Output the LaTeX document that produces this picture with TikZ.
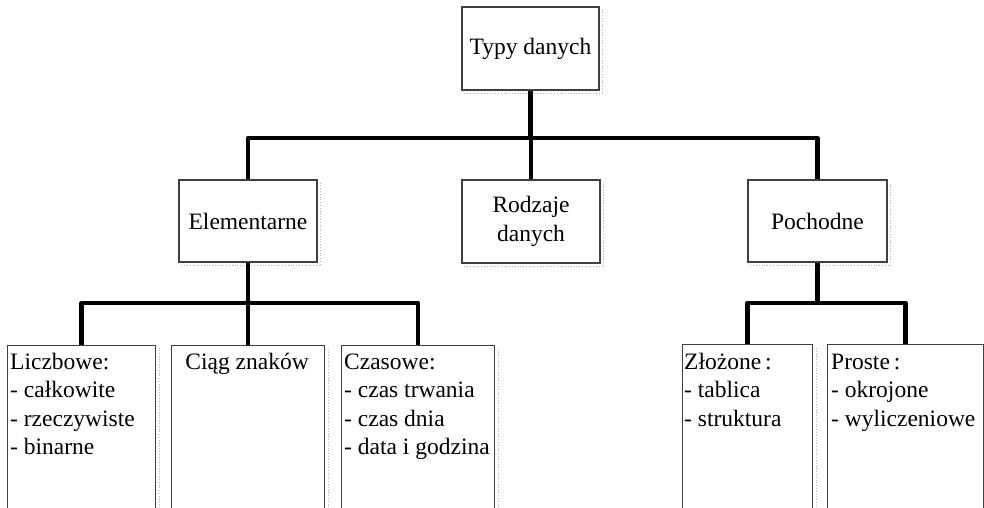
\documentclass[tikz,border=0pt]{standalone}
\usepackage{fontspec}
\setmainfont{Liberation Serif}
\begin{document}
\begin{tikzpicture}[x=1pt,y=-1pt,
  box/.style={draw=black!75, line width=1.1pt, fill=white, inner sep=0pt,
              font=\fontsize{23.5}{28.5}\selectfont},
  col/.style={box, anchor=north west, minimum height=200pt},
  lbl/.style={font=\fontsize{23.5}{28.5}\selectfont, inner sep=0pt, align=left},
  conn/.style={line width=4.2pt, line join=round, line cap=butt},
  shade/.style={draw=black!30, dotted, line width=0.8pt}]
\useasboundingbox (0,0) rectangle (984,508);
\clip (0,0) rectangle (984,508);

% upper levels
\node[box, minimum width=137pt, minimum height=83pt] (typy) at (530.5,48.5) {Typy danych};
\node[box, minimum width=138pt, minimum height=82pt] (elem) at (248,221) {Elementarne};
\node[box, minimum width=138pt, minimum height=83pt, align=center] (rodz) at (531,221.5) {Rodzaje\\danych};
\node[box, minimum width=139pt, minimum height=82pt] (poch) at (817.5,221) {Pochodne};

% lowest level: tall columns running off the bottom edge
\node[col, minimum width=148pt] (licz)  at (7,345)   {};
\node[col, minimum width=153pt] (ciag)  at (171,345) {};
\node[col, minimum width=153pt] (czas)  at (341,345) {};
\node[col, minimum width=130pt] (zloz)  at (682,344) {};
\node[col, minimum width=156pt] (prost) at (827,344) {};

% column texts (base anchor sits on the last line of a multi-line node)
\node[lbl, anchor=base west] (liczT) at ([shift={(3,109.5)}]licz.north west)
  {Liczbowe:\\- całkowite\\- rzeczywiste\\- binarne};
\node[lbl, anchor=base] (ciagT) at ([shift={(-1,24)}]ciag.north) {Ciąg znaków};
\node[lbl, anchor=base west] (czasT) at ([shift={(3,109.5)}]czas.north west)
  {Czasowe:\\- czas trwania\\- czas dnia\\- data i godzina};
\node[lbl, anchor=base west] (zlozT) at ([shift={(2,82)}]zloz.north west)
  {Złożone\,:\\- tablica\\- struktura};
\node[lbl, anchor=base west] (prostT) at ([shift={(4,82)}]prost.north west)
  {Proste\,:\\- okrojone\\- wyliczeniowe};

% soft drop shadows
\foreach \b in {typy,elem,rodz,poch,licz,ciag,czas,zloz,prost}
  \draw[shade] ([shift={(3,3)}]\b.south west) -- ([shift={(3,3)}]\b.south east)
               -- ([shift={(3,3)}]\b.north east);

% junction points of the tree
\coordinate (j1) at (530.5,138);
\coordinate (j2) at (248,303);
\coordinate (j3) at (817.5,303);

% connectors
\draw[conn] (typy.south) -- (j1);
\draw[conn] (elem.north) |- (j1) -| (poch.north);
\draw[conn] (rodz.north) -- (rodz.north |- j1);

\draw[conn] (elem.south) -- (j2);
\draw[conn] (licz.north) |- (j2) -| (czas.north);
\draw[conn] (ciag.north) -- (ciag.north |- j2);

\draw[conn] (poch.south) -- (j3);
\draw[conn] (zloz.north) |- (j3) -| (prost.north);
\end{tikzpicture}
\end{document}
